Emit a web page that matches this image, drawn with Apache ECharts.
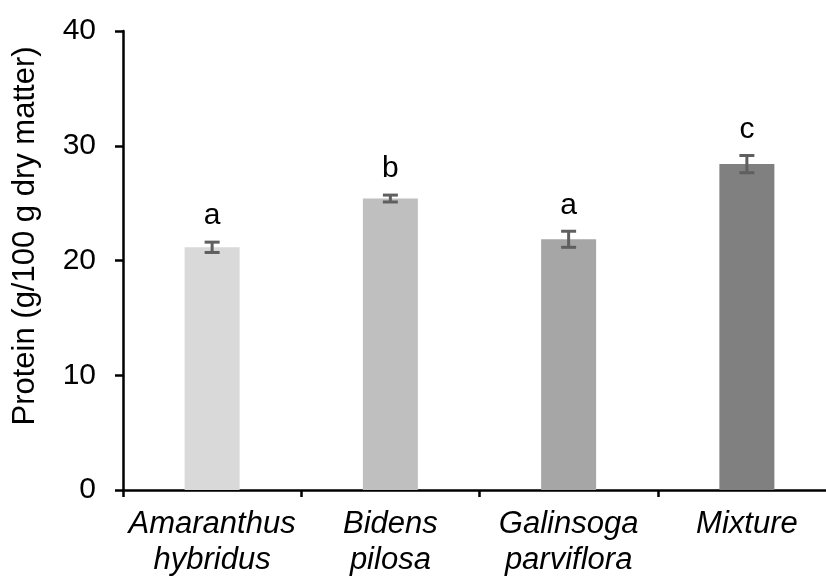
<!DOCTYPE html>
<html>
<head>
<meta charset="utf-8">
<script src="https://cdn.jsdelivr.net/npm/echarts@6/dist/echarts.min.js"></script>
<style>
html,body{margin:0;padding:0;background:#fff;overflow:hidden;width:826px;height:578px;}
#chart{width:840px;height:578px;}
</style>
</head>
<body>
<div id="chart"></div>
<script>
const categories = ['Amaranthus\nhybridus', 'Bidens\npilosa', 'Galinsoga\nparviflora', 'Mixture'];
const protein = [21.15, 25.4, 21.85, 28.4];
const errors = [0.45, 0.3, 0.7, 0.75];
const letters = ['a', 'b', 'a', 'c'];
const barColors = ['#d9d9d9', '#bfbfbf', '#a6a6a6', '#808080'];
const yTicks = [0, 10, 20, 30, 40];

const FONT = '"Liberation Sans", Arial, sans-serif';
const chart = echarts.init(document.getElementById('chart'), null, {renderer: 'canvas'});

const errData = protein.map((v, i) => [i, v, errors[i], letters[i]]);

chart.setOption({
  animation: false,
  backgroundColor: '#ffffff',
  grid: {left: 123, top: 31, width: 713, bottom: 85, containLabel: false},
  xAxis: {
    type: 'category',
    data: categories,
    axisLine: {lineStyle: {color: '#000', width: 2.5}},
    axisTick: {show: true, inside: false, length: 7, lineStyle: {color: '#000', width: 2.5}},
    axisLabel: {
      margin: 16,
      fontFamily: FONT, fontSize: 31, fontStyle: 'italic', color: '#000',
      lineHeight: 36, interval: 0
    }
  },
  yAxis: {
    type: 'value',
    min: yTicks[0], max: yTicks[yTicks.length - 1], interval: 10,
    splitLine: {show: false},
    axisLine: {show: true, lineStyle: {color: '#000', width: 2.5}},
    axisTick: {show: true, length: 8, lineStyle: {color: '#000', width: 2.5}},
    axisLabel: {margin: 27, fontFamily: FONT, fontSize: 30, color: '#000'}
  },
  graphic: [{
    type: 'text',
    x: 25, y: 236,
    rotation: Math.PI / 2,
    style: {
      text: 'Protein (g/100 g dry matter)',
      fontFamily: FONT, fontSize: 31, fill: '#000',
      align: 'center', verticalAlign: 'middle'
    }
  }],
  series: [
    {
      type: 'bar',
      barWidth: 55,
      data: protein.map((v, i) => ({value: v, itemStyle: {color: barColors[i]}})),
      z: 2
    },
    {
      type: 'custom',
      data: errData,
      z: 3,
      renderItem: function (params, api) {
        const i = api.value(0), v = api.value(1), e = api.value(2);
        const top = api.coord([i, v + e]);
        const bot = api.coord([i, v - e]);
        const half = 7.5;
        const st = {stroke: '#5f5f5f', lineWidth: 3};
        return {
          type: 'group',
          children: [
            {type: 'line', shape: {x1: top[0], y1: top[1], x2: bot[0], y2: bot[1]}, style: st},
            {type: 'line', shape: {x1: top[0] - half, y1: top[1], x2: top[0] + half, y2: top[1]}, style: st},
            {type: 'line', shape: {x1: bot[0] - half, y1: bot[1], x2: bot[0] + half, y2: bot[1]}, style: st},
            {type: 'text', x: top[0], y: top[1] - 11,
              style: {text: letters[params.dataIndex], fontFamily: FONT, fontSize: 30, fill: '#000',
                      align: 'center', verticalAlign: 'bottom'}}
          ]
        };
      }
    }
  ]
});
</script>
</body>
</html>
